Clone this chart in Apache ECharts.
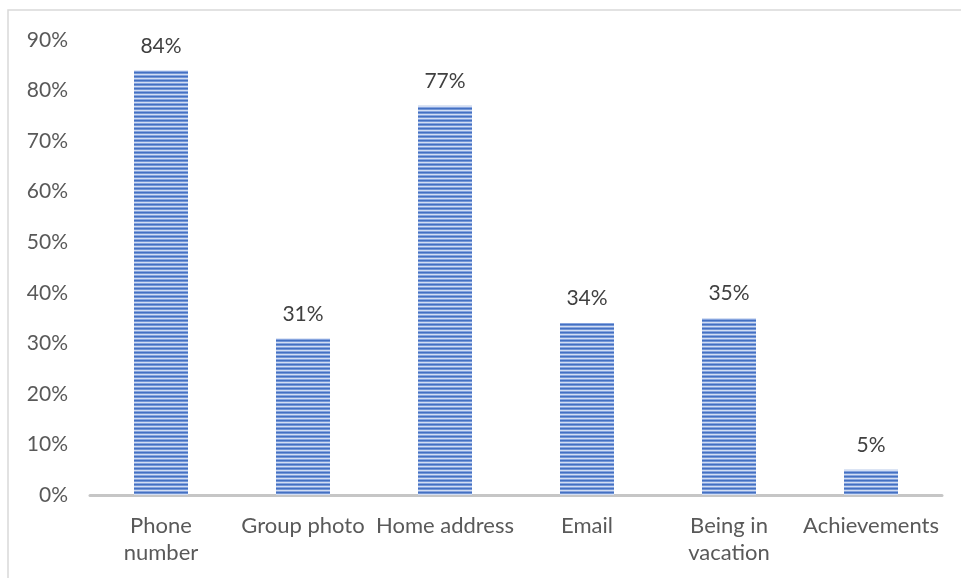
<!DOCTYPE html>
<html>
<head>
<meta charset="utf-8">
<script src="https://cdn.jsdelivr.net/npm/echarts@6/dist/echarts.min.js"></script>
<style>
  html, body { margin: 0; padding: 0; background: #ffffff; }
  #chart { width: 961px; height: 578px; }
</style>
</head>
<body>
<div id="chart"></div>
<script>
// Shares of respondents per item
const categories = ['Phone\nnumber', 'Group photo', 'Home address', 'Email', 'Being in\nvacation', 'Achievements'];
const shares = [84, 31, 77, 34, 35, 5];
const yTicks = { min: 0, max: 90, interval: 10 };

// Horizontal striped fill for the bars
function stripePattern() {
  const c = document.createElement('canvas');
  c.width = 4; c.height = 4;
  const g = c.getContext('2d');
  const rows = ['#4470c2', '#7396d6', '#d3def3', '#86a4de'];
  rows.forEach((col, i) => { g.fillStyle = col; g.fillRect(0, i, 4, 1); });
  return c;
}

const chart = echarts.init(document.getElementById('chart'), null, { renderer: 'canvas' });
const font = 'Lato, "Open Sans", sans-serif';

chart.setOption({
  animation: false,
  backgroundColor: '#ffffff',
  grid: { left: 90, right: 19, top: 40, bottom: 83, containLabel: false },
  graphic: [{
    type: 'rect',
    shape: { x: 8, y: 10, width: 1000, height: 620 },
    style: { fill: 'none', stroke: '#d9d9d9', lineWidth: 1.5 },
    silent: true
  }],
  xAxis: {
    type: 'category',
    data: categories,
    axisLine: { show: true, lineStyle: { color: '#c6c6c6', width: 3 } },
    axisTick: { show: false },
    axisLabel: { color: '#595959', fontFamily: font, fontSize: 22, margin: 17, lineHeight: 27, interval: 0 }
  },
  yAxis: {
    type: 'value',
    min: yTicks.min, max: yTicks.max, interval: yTicks.interval,
    splitLine: { show: false },
    axisLine: { show: false },
    axisTick: { show: false },
    axisLabel: { color: '#595959', fontFamily: font, fontSize: 21, margin: 22, formatter: v => v + '%' }
  },
  series: [{
    type: 'bar',
    data: shares,
    barWidth: 54,
    itemStyle: { color: { image: stripePattern(), repeat: 'repeat' } },
    label: {
      show: true, position: 'top', distance: 14,
      color: '#404040', fontFamily: font, fontSize: 21,
      formatter: p => p.value + '%'
    }
  }]
});
</script>
</body>
</html>
